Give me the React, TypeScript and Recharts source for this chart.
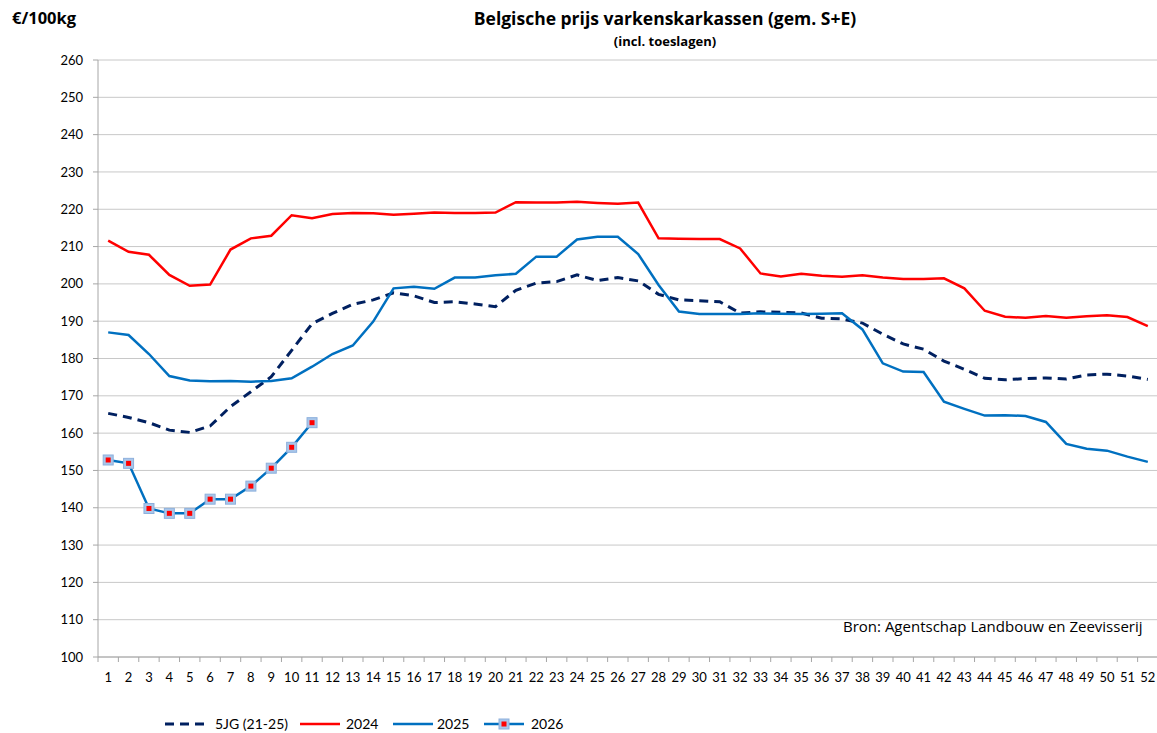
import { LineChart, Line, XAxis, YAxis, CartesianGrid } from 'recharts'

const weeks = Array.from({ length: 52 }, (_, i) => String(i + 1))

const gem5jg = [
  165.3, 164.2, 162.8, 160.8, 160.2, 161.9, 167.1, 171.1, 175.1, 182.2,
  189.3, 192.1, 194.5, 195.7, 197.6, 196.8, 195.0, 195.2, 194.6, 193.9,
  198.3, 200.2, 200.6, 202.4, 200.9, 201.7, 200.8, 197.2, 195.7, 195.5,
  195.2, 192.2, 192.5, 192.4, 192.2, 190.8, 190.6, 189.5, 186.5, 183.9,
  182.5, 179.3, 177.1, 174.7, 174.3, 174.6, 174.8, 174.5, 175.6, 175.8,
  175.3, 174.4,
]

const y2024 = [
  211.6, 208.6, 207.8, 202.4, 199.5, 199.8, 209.2, 212.2, 212.9, 218.4,
  217.6, 218.7, 219.0, 218.9, 218.5, 218.8, 219.1, 219.0, 219.0, 219.1,
  221.9, 221.8, 221.8, 222.0, 221.7, 221.5, 221.8, 212.2, 212.1, 212.0,
  212.0, 209.5, 202.8, 202.0, 202.7, 202.2, 201.9, 202.3, 201.7, 201.3,
  201.3, 201.5, 198.8, 192.8, 191.2, 190.9, 191.4, 190.9, 191.3, 191.6,
  191.1, 188.7,
]

const y2025 = [
  187.0, 186.3, 181.2, 175.3, 174.1, 173.9, 174.0, 173.8, 174.0, 174.7,
  177.8, 181.2, 183.5, 189.9, 198.8, 199.2, 198.7, 201.7, 201.7, 202.3,
  202.7, 207.3, 207.3, 211.9, 212.6, 212.6, 208.0, 199.7, 192.6, 191.9,
  191.9, 191.9, 192.1, 192.0, 191.9, 192.0, 192.1, 187.8, 178.7, 176.5,
  176.4, 168.4, 166.5, 164.7, 164.8, 164.6, 163.0, 157.1, 155.8, 155.3,
  153.7, 152.3,
]

const y2026 = [152.8, 151.9, 139.8, 138.5, 138.5, 142.3, 142.3, 145.8, 150.6, 156.2, 162.8]

const yTicks = [100, 110, 120, 130, 140, 150, 160, 170, 180, 190, 200, 210, 220, 230, 240, 250, 260]

const seriesInfo = [
  { key: 'gem', name: '5JG (21-25)', color: '#002060', dash: '9 6', width: 3 },
  { key: 'y2024', name: '2024', color: '#FF0000', dash: undefined, width: 2.5 },
  { key: 'y2025', name: '2025', color: '#0070C0', dash: undefined, width: 2.5 },
  { key: 'y2026', name: '2026', color: '#0070C0', dash: undefined, width: 2.5 },
]

const data = weeks.map((w, i) => ({
  week: w,
  gem: gem5jg[i],
  y2024: y2024[i],
  y2025: y2025[i],
  y2026: i < y2026.length ? y2026[i] : null,
}))

// tick / legend font (Calibri-ish) and heading font
const FONT = 'Lato, "Open Sans", sans-serif'
const HEAD = '"Open Sans", Lato, sans-serif'
const W = 1157
const H = 733
const PLOT_LEFT = 98
const PLOT_RIGHT = 1158
const HALF = (PLOT_RIGHT - PLOT_LEFT) / 52 / 2
const AXIS_Y = 657

function XTick(props: any) {
  const { x, payload, index } = props
  return (
    <g>
      <line x1={x - HALF} x2={x - HALF} y1={AXIS_Y} y2={AXIS_Y + 5} stroke="#A6A6A6" />
      {index === 51 && <line x1={x + HALF} x2={x + HALF} y1={AXIS_Y} y2={AXIS_Y + 5} stroke="#A6A6A6" />}
      <text x={x} y={AXIS_Y + 25} textAnchor="middle" fontSize={13} fill="#000" fontFamily={FONT}>
        {payload.value}
      </text>
    </g>
  )
}

function MarkerDot(props: any) {
  const { cx, cy, value } = props
  if (value == null || cx == null) return null
  return (
    <g>
      <rect x={cx - 5} y={cy - 5} width={10} height={10} fill="#A9C6EA" stroke="#8DB0DC" strokeWidth={1} />
      <rect x={cx - 2.5} y={cy - 2.5} width={5} height={5} fill="#FF0000" />
    </g>
  )
}

function LegendBar() {
  const items = [
    { ...seriesInfo[0], x: 165, tx: 215 },
    { ...seriesInfo[1], x: 300, tx: 346 },
    { ...seriesInfo[2], x: 393, tx: 437 },
    { ...seriesInfo[3], x: 484, tx: 531 },
  ]
  return (
    <svg width={W} height={30} style={{ position: 'absolute', left: 0, top: 709 }}>
      {items.map(it => (
        <g key={it.key}>
          <line x1={it.x} x2={it.x + 40} y1={15} y2={15} stroke={it.color} strokeWidth={it.width} strokeDasharray={it.dash} />
          {it.key === 'y2026' && (
            <g>
              <rect x={it.x + 15} y={10} width={10} height={10} fill="#A9C6EA" stroke="#8DB0DC" />
              <rect x={it.x + 17.5} y={12.5} width={5} height={5} fill="#FF0000" />
            </g>
          )}
          <text x={it.tx} y={20} fontSize={14} fontFamily={FONT} fill="#000">{it.name}</text>
        </g>
      ))}
    </svg>
  )
}

export default function App() {
  return (
    <div style={{ position: 'absolute', left: 0, top: 0, width: W, height: H, background: '#fff' }}>
      <LineChart
        width={W}
        height={H}
        data={data}
        margin={{ top: 60, right: W - PLOT_RIGHT, bottom: H - AXIS_Y - 40, left: 0 }}
      >
        <CartesianGrid vertical={false} stroke="#C8C8C8" />
        <XAxis
          dataKey="week"
          interval={0}
          padding={{ left: HALF, right: HALF }}
          axisLine={{ stroke: '#A6A6A6' }}
          tickLine={false}
          height={40}
          tick={<XTick />}
        />
        <YAxis
          domain={[100, 260]}
          ticks={yTicks}
          interval={0}
          width={PLOT_LEFT}
          axisLine={{ stroke: '#A6A6A6' }}
          tickLine={{ stroke: '#A6A6A6' }}
          tickSize={5}
          tickMargin={10}
          tick={{ fill: '#000', fontSize: 13, fontFamily: FONT }}
        />
        {seriesInfo.map(s => (
          <Line
            key={s.key}
            dataKey={s.key}
            name={s.name}
            type="linear"
            stroke={s.color}
            strokeWidth={s.width}
            strokeDasharray={s.dash}
            dot={s.key === 'y2026' ? <MarkerDot /> : false}
            activeDot={false}
            connectNulls={false}
            isAnimationActive={false}
          />
        ))}
      </LineChart>
      <svg width={W} height={H} style={{ position: 'absolute', left: 0, top: 0, pointerEvents: 'none' }}>
        <text x={12} y={24} fontFamily={HEAD} fontSize={16.5} fontWeight={700} fill="#000">€/100kg</text>
        <text x={665} y={25} textAnchor="middle" fontFamily={HEAD} fontSize={17.5} fontWeight={700} fill="#000">
          Belgische prijs varkenskarkassen (gem. S+E)
        </text>
        <text x={665} y={46} textAnchor="middle" fontFamily={HEAD} fontSize={13} fontWeight={700} fill="#000">
          (incl. toeslagen)
        </text>
        <text x={843} y={632} fontFamily={HEAD} fontSize={15} fill="#000">Bron: Agentschap Landbouw en Zeevisserij</text>
      </svg>
      <LegendBar />
    </div>
  )
}
